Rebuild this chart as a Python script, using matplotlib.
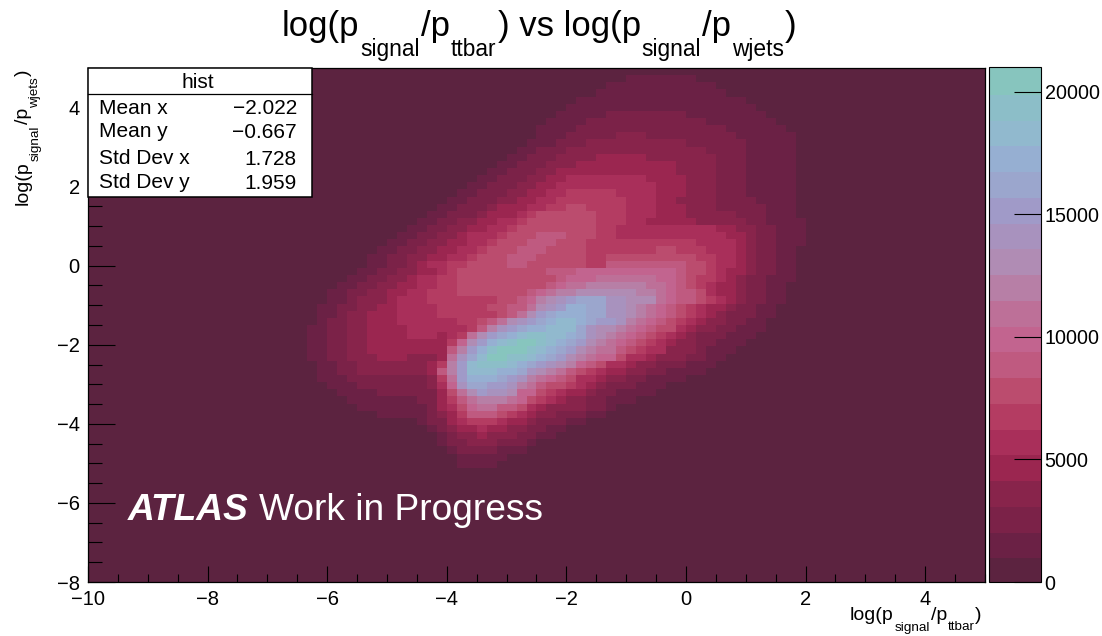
import numpy as np
import matplotlib
matplotlib.use("Agg")
import matplotlib.pyplot as plt
from matplotlib.colors import ListedColormap, BoundaryNorm
from matplotlib.font_manager import FontProperties
from matplotlib.patches import Rectangle

plt.rcParams['font.family'] = ['Liberation Sans', 'DejaVu Sans']

W, H = 1102, 636

# (text, is_subscript) pieces of the titles
title_parts = [("log(p", 0), ("signal", 1), ("/p", 0), ("ttbar", 1), (") vs log(p", 0), ("signal", 1), ("/p", 0), ("wjets", 1), (")", 0)]
xlabel_parts = [("log(p", 0), ("signal", 1), ("/p", 0), ("ttbar", 1), (")", 0)]
ylabel_parts = [("log(p", 0), ("signal", 1), ("/p", 0), ("wjets", 1), (")", 0)]

n_x_bins, x_low, x_high = 90, -10, 5
n_y_bins, y_low, y_high = 72, -8, 5
z_max = 21000
xticks = [-10, -8, -6, -4, -2, 0, 2, 4]
yticks = [-8, -6, -4, -2, 0, 2, 4]
zticks = [0, 5000, 10000, 15000, 20000]

stat_names = ["Mean x", "Mean y", "Std Dev x", "Std Dev y"]
stat_values = ["\u22122.022", "\u22120.667", "1.728", "1.959"]

palette = ["#5c2340", "#6b2145", "#7b2248", "#88244b", "#9b2650", "#a92f5a", "#b43c62",
           "#bb4c6e", "#bf5a80", "#c2648f", "#bd7098", "#b77fa6", "#b08cb4", "#a892be",
           "#a09ac8", "#9ba6cd", "#96afd2", "#91b9ce", "#8cbec8", "#87c5be"]

# Row index (from the bottom) -> "first_column:contour_band" runs
cell_runs = {
    70: "54:1 61:0",
    69: "52:1 63:0",
    68: "51:1 64:0",
    67: "49:1 66:0",
    66: "48:1 67:0",
    65: "47:1 52:2 60:1 68:0",
    64: "46:1 50:2 62:1 69:0",
    63: "45:1 49:2 64:1 70:0",
    62: "45:1 48:2 53:3 56:2 65:1 71:0",
    61: "44:1 47:2 50:3 60:2 66:1 71:0",
    60: "43:1 45:2 48:3 62:2 66:1 71:0",
    59: "42:1 44:2 47:3 51:4 56:3 63:2 66:1 71:0",
    58: "41:1 43:2 46:3 49:4 59:3 63:2 66:1 71:0",
    57: "40:1 42:2 45:3 47:4 59:3 63:2 66:1 71:0",
    56: "39:1 41:2 44:3 46:4 48:5 56:4 60:3 63:2 66:1 71:0",
    55: "38:1 40:2 43:3 45:4 47:5 57:4 60:3 63:2 66:1 71:0",
    54: "37:1 39:2 42:3 44:4 46:5 48:6 53:5 57:4 60:3 63:2 66:1 71:0",
    53: "36:1 38:2 41:3 43:4 45:5 47:6 54:5 57:4 59:3 63:2 67:1 71:0",
    52: "35:1 37:2 40:3 41:4 44:5 46:6 48:7 50:6 54:5 57:4 60:3 63:2 68:1 71:0",
    51: "34:1 36:2 39:3 40:4 43:5 44:6 45:7 51:6 54:5 57:4 60:3 65:2 68:1 71:0",
    50: "33:1 35:2 37:3 39:4 41:5 43:6 44:7 51:6 54:5 56:4 61:3 66:2 68:1 72:0",
    49: "32:1 34:2 36:3 38:4 40:5 42:6 43:7 51:6 53:5 63:4 65:3 67:2 69:1 72:0",
    48: "31:1 33:2 35:3 37:4 38:5 41:6 42:7 45:8 48:7 51:6 53:5 64:4 66:3 67:2 69:1 72:0",
    47: "30:1 32:2 34:3 36:4 38:5 40:6 41:7 44:8 47:7 50:6 61:5 65:4 66:3 67:2 69:1 72:0",
    46: "29:1 31:2 33:3 35:4 37:5 39:6 40:7 43:8 46:7 50:6 57:7 59:6 62:5 65:4 66:3 67:2 69:1 71:0",
    45: "28:1 30:2 32:3 34:4 36:5 38:6 39:7 42:8 45:7 50:6 52:7 61:6 63:5 65:4 66:3 67:2 69:1 71:0",
    44: "28:1 30:2 32:3 33:4 34:5 36:6 38:7 42:8 44:7 50:6 52:8 60:7 62:6 63:5 65:4 66:3 67:2 69:1 71:0",
    43: "27:1 29:2 31:3 33:4 35:5 36:6 37:7 46:8 49:9 59:8 60:7 62:6 63:5 64:4 66:3 67:2 69:1 71:0",
    42: "26:1 28:2 30:3 32:4 33:5 35:6 37:7 47:8 48:9 51:10 57:9 59:8 60:7 61:6 63:5 64:4 65:3 66:2 68:1 71:0",
    41: "25:1 27:2 29:3 31:4 33:5 35:6 37:7 46:8 47:9 48:10 50:11 56:10 58:9 59:8 60:7 61:6 62:5 63:4 65:3 66:2 68:1 70:0",
    40: "24:1 26:2 28:3 30:4 32:5 34:6 37:7 44:8 45:9 46:10 47:11 49:12 55:11 57:10 58:9 59:8 61:7 62:5 63:4 65:3 66:2 68:1 70:0",
    39: "24:1 26:2 27:3 30:4 31:5 34:6 41:7 43:8 44:9 45:11 46:12 47:13 48:14 49:15 52:13 54:12 57:10 58:9 59:8 61:7 62:6 63:5 64:4 65:3 66:2 68:1 70:0",
    38: "23:1 25:2 27:3 29:4 31:5 35:6 40:7 42:8 44:10 45:12 46:13 47:14 48:16 50:15 52:13 54:12 55:11 56:10 57:9 58:8 59:7 60:6 61:5 62:4 64:3 65:2 67:1 69:0",
    37: "23:1 25:2 26:3 28:4 31:5 35:6 41:7 42:8 43:10 44:12 45:14 46:15 47:16 50:15 52:13 54:12 55:11 56:10 57:9 58:8 59:7 60:6 61:5 62:4 63:3 64:2 67:1 69:0",
    36: "23:1 24:2 26:3 28:4 31:5 37:6 39:7 40:8 41:10 42:12 43:13 44:14 45:15 46:16 47:17 49:16 50:15 51:14 53:13 54:11 55:10 56:9 57:8 58:7 59:6 60:5 61:4 62:3 64:2 66:1 68:0",
    35: "22:1 24:2 26:3 28:4 32:5 38:6 39:8 40:11 41:13 42:14 43:15 44:16 46:17 49:15 50:13 51:12 53:11 54:10 55:9 56:8 57:7 59:5 60:4 61:3 63:2 65:1 68:0",
    34: "22:1 24:2 26:3 28:4 32:5 35:4 36:5 37:6 38:10 39:12 40:14 41:15 42:16 43:17 44:18 46:17 48:16 49:15 50:13 51:12 52:11 53:10 54:9 55:8 56:7 57:6 58:5 59:4 60:3 61:2 64:1 67:0",
    33: "22:1 24:2 26:3 28:4 36:6 37:9 38:12 39:14 40:16 41:17 42:18 43:19 45:18 46:17 47:16 48:15 49:14 50:12 51:11 52:10 53:9 54:8 55:7 56:6 57:5 58:4 59:3 61:2 63:1 66:0",
    32: "22:1 24:2 26:3 28:4 36:8 37:11 38:14 39:16 40:18 41:19 44:18 45:17 46:16 47:15 48:14 49:12 50:11 51:10 53:8 54:7 55:6 56:5 58:3 61:2 62:1 65:0",
    31: "22:1 24:2 26:3 29:4 32:3 35:4 36:10 37:13 38:15 39:17 40:19 42:18 44:17 45:16 46:15 47:14 48:12 49:11 50:10 51:9 53:7 54:5 56:4 57:3 60:2 62:1 64:0",
    30: "23:1 25:2 27:3 34:4 35:6 36:11 37:14 38:17 39:18 42:17 43:16 44:15 45:14 46:13 47:12 48:11 49:9 50:8 51:7 52:5 54:4 55:3 57:2 60:1 63:0",
    29: "23:1 25:2 27:3 34:4 35:8 36:11 37:14 38:17 41:16 43:15 44:13 45:12 46:11 47:10 48:8 49:7 50:6 51:5 52:4 54:3 56:2 58:1 62:0",
    28: "23:1 26:2 34:3 35:6 36:10 37:14 38:16 41:15 42:14 43:13 44:11 45:10 46:9 47:8 48:7 49:5 51:4 52:3 54:2 56:1 60:0",
    27: "24:1 27:2 34:3 35:5 36:9 37:13 38:15 40:14 42:13 43:11 44:10 45:8 46:7 48:6 49:5 50:4 51:3 52:2 55:1 58:0",
    26: "25:1 29:2 35:4 36:7 37:10 38:12 39:14 40:13 42:12 43:9 45:7 46:6 47:5 48:4 50:3 51:2 53:1 57:0",
    25: "26:1 33:2 35:4 36:6 37:8 38:10 39:11 42:10 43:9 44:7 45:6 46:5 47:4 48:3 50:2 52:1 55:0",
    24: "27:1 34:2 35:4 36:5 37:7 38:9 39:10 41:8 43:7 44:5 45:4 46:3 50:2 52:1 53:0",
    23: "29:1 34:2 35:3 36:4 37:6 38:8 41:7 42:6 43:5 44:4 45:3 47:2 50:1 52:0",
    22: "33:1 34:2 36:4 37:5 38:6 41:5 42:4 44:3 45:2 48:1 50:0",
    21: "34:1 35:2 36:3 37:4 39:5 40:4 42:3 44:2 46:1 48:0",
    20: "35:1 36:2 37:3 39:4 40:3 43:2 45:1 47:0",
    19: "35:1 36:2 38:3 41:2 44:1 45:0",
    18: "36:1 37:2 41:1 44:0",
    17: "37:1 42:0",
    16: "37:1 41:0",
}

band_width = z_max / len(palette)
counts = np.full((n_y_bins, n_x_bins), 0.5 * band_width)
for row, runs in cell_runs.items():
    for token in runs.split():
        col, band = map(int, token.split(":"))
        counts[row, col:] = (band + 0.5) * band_width

fig = plt.figure(figsize=(W / 100, H / 100), dpi=100)
renderer = fig.canvas.get_renderer()


def box(left, top, right, bottom):
    return [left / W, 1 - bottom / H, (right - left) / W, (bottom - top) / H]


def part_width(text, size):
    prop = FontProperties(family='Liberation Sans', size=size)
    return renderer.get_text_width_height_descent(text, prop, False)[0]


def draw_parts(parts, x0, y0, size, sub_size, drop, gap, vertical=False):
    """Lay the pieces of a label end to end, in pixels from the top-left corner."""
    pos = 0.0
    for text, is_sub in parts:
        s = sub_size if is_sub else size
        d = drop if is_sub else 0
        if vertical:
            fig.text((x0 + d) / W, 1 - (y0 - pos) / H, text, fontsize=s, rotation=90,
                     rotation_mode='anchor', ha='left', va='baseline')
        else:
            fig.text((x0 + pos) / W, 1 - (y0 + d) / H, text, fontsize=s, ha='left', va='baseline')
        pos += part_width(text, s) + gap


ax = fig.add_axes(box(88, 68, 985, 582))
cax = fig.add_axes(box(989, 67, 1040.5, 582))

x_edges = np.linspace(x_low, x_high, n_x_bins + 1)
y_edges = np.linspace(y_low, y_high, n_y_bins + 1)
cmap = ListedColormap(palette)
norm = BoundaryNorm(np.linspace(0, z_max, len(palette) + 1), cmap.N)
mesh = ax.pcolormesh(x_edges, y_edges, counts, cmap=cmap, norm=norm, linewidth=0, rasterized=True)

ax.set_xlim(x_low, x_high)
ax.set_ylim(y_low, y_high)
ax.set_xticks(xticks)
ax.set_yticks(yticks)
ax.set_xticks(np.arange(x_low, x_high + 0.01, 0.5), minor=True)
ax.set_yticks(np.arange(y_low, y_high + 0.01, 0.5), minor=True)
ax.tick_params(axis='x', which='major', direction='in', length=11.5, width=0.8, labelsize=14.5, pad=6)
ax.tick_params(axis='x', which='minor', direction='in', length=5.8, width=0.8)
ax.tick_params(axis='y', which='major', direction='in', length=19.5, width=0.8, labelsize=14.5, pad=6)
ax.tick_params(axis='y', which='minor', direction='in', length=9.8, width=0.8)
for spine in ax.spines.values():
    spine.set_linewidth(0.9)

cb = fig.colorbar(mesh, cax=cax, spacing='proportional', drawedges=False)
cb.set_ticks(zticks)
cb.minorticks_off()
cb.solids.set_edgecolor("face")
cax.tick_params(axis='y', direction='in', length=19.5, width=0.8, labelsize=14.2, pad=3)
cb.outline.set_linewidth(0.8)

# Title and axis titles
draw_parts(title_parts, 282, 36, 25, 16.4, 20, 1.0)
draw_parts(xlabel_parts, 850, 620, 14, 9.7, 10.5, 0.7)
draw_parts(ylabel_parts, 28, 205, 14, 9.7, 10.5, 0.7, vertical=True)

# Stats box
fig.add_artist(Rectangle((88 / W, 1 - 196.5 / H), 224 / W, 129 / H, transform=fig.transFigure,
                         facecolor='white', edgecolor='black', linewidth=1.1, zorder=5))
fig.add_artist(plt.Line2D([88 / W, 312 / W], [1 - 93.5 / H, 1 - 93.5 / H], color='black', linewidth=0.9, zorder=6))
fig.text(198 / W, 1 - 82.5 / H, "hist", fontsize=15, ha='center', va='center', zorder=7)
for y_px, name, value in zip([108, 132, 158.5, 183], stat_names, stat_values):
    fig.text(99 / W, 1 - y_px / H, name, fontsize=15, ha='left', va='center', zorder=7)
    fig.text(297 / W, 1 - (y_px + 1) / H, value, fontsize=15, ha='right', va='center', zorder=7)

# Label
fig.text(128 / W, 1 - 520 / H, "ATLAS", fontsize=26.7, style='italic', weight='bold', color='white', ha='left', va='baseline')
fig.text(259 / W, 1 - 520 / H, "Work in Progress", fontsize=26.7, color='white', ha='left', va='baseline')

fig.savefig("out.png", dpi=100)
